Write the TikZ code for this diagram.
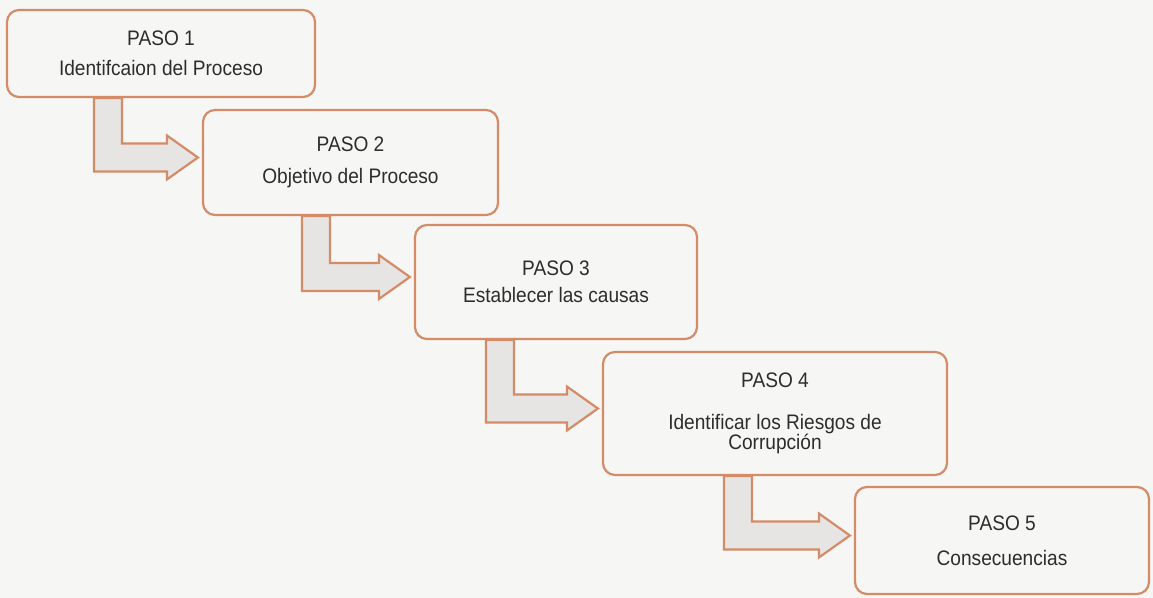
\documentclass[tikz,border=0pt]{standalone}
\usepackage{fontspec}
\setmainfont{Liberation Sans}[FakeStretch=0.91]
\usepackage{tikz}
\usetikzlibrary{
        calc,
        backgrounds
    }
\definecolor{paper}{RGB}{246,246,244}
\definecolor{boxline}{RGB}{212,140,104}
\definecolor{arrowfill}{RGB}{231,229,227}
\definecolor{ink}{RGB}{45,45,45}
\tikzset{>=stealth,auto}
\tikzset{paso box/.style={draw=boxline,fill=paper,line width=1.1pt,rounded corners=6pt,
        align=center,text=ink,inner sep=2pt,font=\fontsize{10.5}{12}\selectfont}}
\tikzset{paso arrow/.style={draw=boxline,fill=arrowfill,line width=1.1pt,line join=miter}}

\begin{document}
\begin{tikzpicture}[x=0.5pt,y=-0.5pt]
            \fill[paper] (0,0) rectangle (1153,598);
            \useasboundingbox (0,0) rectangle (1153,598);
            \node[paso box,minimum width=154pt,minimum height=43.5pt] (s1) at (161,53.5)
                {PASO 1\\[3pt]Identifcaion del Proceso};
            \node[paso box,minimum width=147.5pt,minimum height=52.5pt] (s2) at (350.5,162.5)
                {PASO 2\\[4pt]Objetivo del Proceso};
            \node[paso box,minimum width=141pt,minimum height=57pt] (s3) at (556,282)
                {PASO 3\\[1.5pt]Establecer las causas};
            \node[paso box,minimum width=172pt,minimum height=61.5pt] (s4) at (775,413.5)
                {PASO 4\\[9pt]Identificar los Riesgos de\\[-2pt]Corrupción};
            \node[paso box,minimum width=147pt,minimum height=53.5pt] (s5) at (1002,540.5)
                {PASO 5\\[5.5pt]Consecuencias};
            % bent block arrows from one step to the next
            \foreach \a/\b/\dx in {s1/s2/88, s2/s3/100, s3/s4/72, s4/s5/122}{
                \coordinate (tip) at ($(\b.west)+(-4,-5)$);
                \draw[paso arrow] ($(\a.south west)+(\dx,0)$) coordinate (top)
                    -- ++(28,0) |- ($(tip)+(-31,-14)$) -- ++(0,-8) -- (tip)
                    -- ($(tip)+(-31,22)$) -- ++(0,-8) -| (top) -- cycle;
            }
        \end{tikzpicture}
\end{document}
